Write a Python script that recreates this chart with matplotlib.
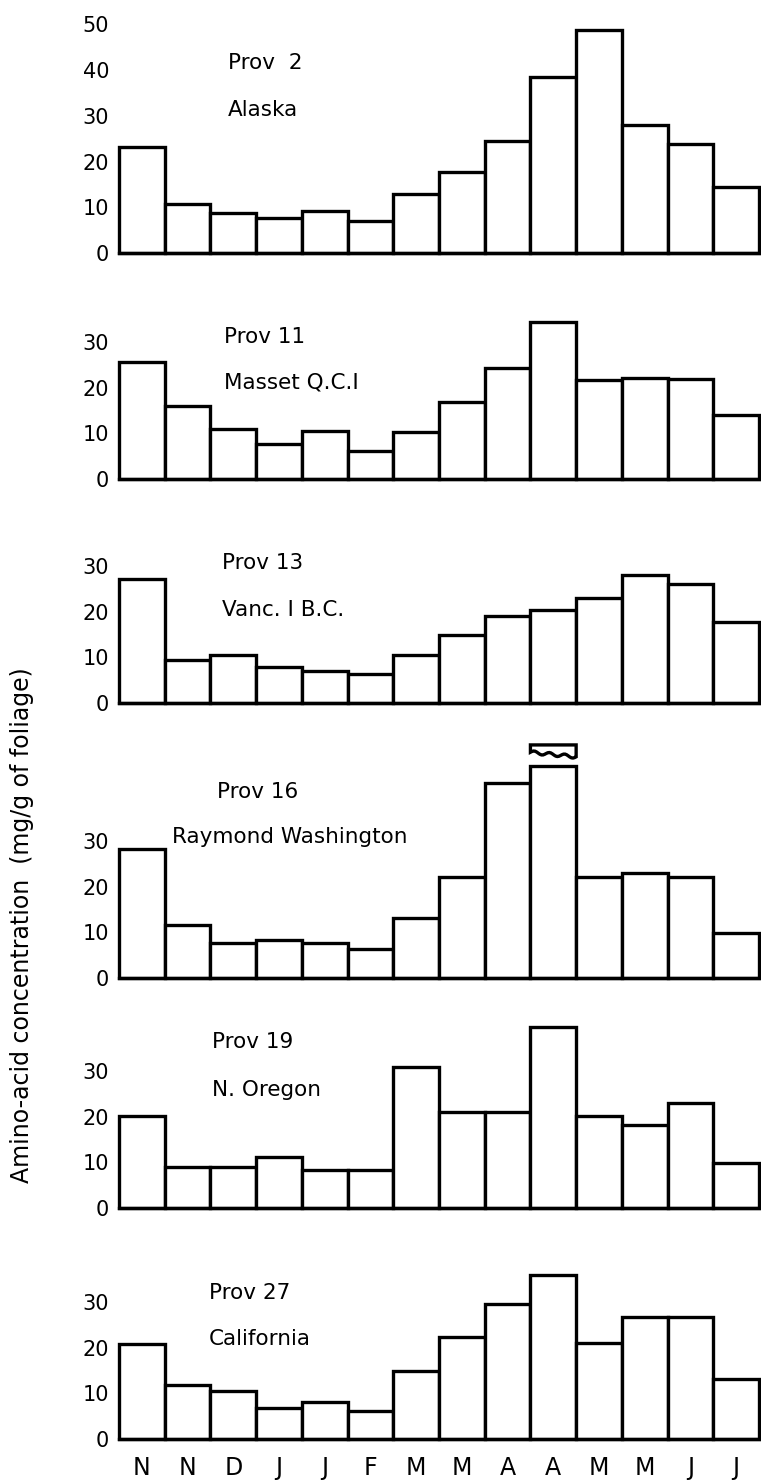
import matplotlib.pyplot as plt
from matplotlib.patches import Polygon
import numpy as np

months = ["N", "N", "D", "J", "J", "F", "M", "M", "A", "A", "M", "M", "J", "J"]

prov2 = [23.2, 10.7, 8.8, 7.7, 9.2, 7.0, 12.9, 17.7, 24.5, 38.5, 48.8, 28.0, 23.9, 14.4]
prov11 = [25.6, 16.0, 10.9, 7.7, 10.5, 6.1, 10.3, 16.8, 24.3, 34.4, 21.7, 22.1, 21.9, 14.0]
prov13 = [27.1, 9.4, 10.5, 7.9, 7.0, 6.3, 10.5, 14.9, 19.0, 20.4, 23.0, 28.0, 26.0, 17.7]
prov16 = [28.2, 11.6, 7.7, 8.3, 7.7, 6.3, 13.1, 22.1, 42.7, 46.3, 22.1, 23.0, 22.1, 9.8]
prov19 = [20.1, 9.0, 9.0, 11.2, 8.3, 8.3, 30.9, 21.0, 21.0, 39.6, 20.2, 18.2, 23.0, 9.8]
prov27 = [20.8, 11.8, 10.5, 6.8, 8.1, 6.1, 14.9, 22.3, 29.5, 35.9, 21.0, 26.7, 26.7, 13.1]

names = ["Prov  2", "Prov 11", "Prov 13", "Prov 16", "Prov 19", "Prov 27"]
places = ["Alaska", "Masset Q.C.I", "Vanc. I B.C.", "Raymond Washington", "N. Oregon", "California"]
series = [prov2, prov11, prov13, prov16, prov19, prov27]

# layout (pixels) - baseline of each panel, top of y range, label spots
W, H = 761, 1483
baselines = [253, 479, 703, 978, 1208, 1439]
ytops = [52, 36, 31, 52, 41, 37]
ytick_sets = [[0, 10, 20, 30, 40, 50]] + [[0, 10, 20, 30]] * 5
name_xy = [(1.88, 41.6), (1.79, 31.0), (1.75, 30.6), (1.64, 40.7), (1.53, 36.3), (1.47, 32.0)]
place_xy = [(1.88, 31.3), (1.79, 21.2), (1.75, 20.4), (0.66, 30.9), (1.53, 25.8), (1.47, 21.9)]
px_per_unit = 4.57
left_px, right_px = 119, 759

# broken bar in Prov 16 (April, second)
break_idx = 9
cap_top, cap_lo_left, cap_lo_right = 51.0, 49.4, 48.4

plt.rcParams['font.family'] = ['DejaVu Sans']
fig = plt.figure(figsize=(W / 100, H / 100), dpi=100)
lw = 2.4

for k in range(6):
    b = baselines[k]
    h = ytops[k] * px_per_unit
    ax = fig.add_axes([left_px / W, 1 - b / H, (right_px - left_px) / W, h / H])
    x = np.arange(len(months))
    ax.bar(x, series[k], width=1.0, facecolor="white", edgecolor="black", linewidth=lw, clip_on=False)
    ax.set_xlim(-0.5, 13.5)
    ax.set_ylim(0, ytops[k])
    ax.set_yticks(ytick_sets[k])
    ax.tick_params(axis="y", length=0, pad=7, labelsize=15)
    for s in ["top", "right", "left"]:
        ax.spines[s].set_visible(False)
    ax.spines["bottom"].set_linewidth(lw)
    if k == 5:
        ax.set_xticks(x)
        ax.set_xticklabels(months, fontsize=17)
        ax.tick_params(axis="x", length=0, pad=12)
    else:
        ax.set_xticks([])
    ax.text(name_xy[k][0], name_xy[k][1], names[k], fontsize=15.5, ha="left", va="center")
    ax.text(place_xy[k][0], place_xy[k][1], places[k], fontsize=15.5, ha="left", va="center")

    if k == 3:
        xl, xr = break_idx - 0.5, break_idx + 0.5
        t = np.linspace(0, 1, 30)
        wave = cap_lo_left + (cap_lo_right - cap_lo_left) * t + 0.35 * np.sin(t * 2 * np.pi * 3)
        pts = [(xl, cap_top), (xr, cap_top)] + list(zip(xl + t[::-1], wave[::-1]))
        ax.add_patch(Polygon(pts, closed=True, facecolor="white", edgecolor="black",
                             linewidth=lw, clip_on=False))

fig.text(22 / W, 1 - 925 / H, "Amino-acid concentration  (mg/g of foliage)",
         rotation=90, ha="center", va="center", fontsize=17)

fig.savefig("out.png", dpi=100)
